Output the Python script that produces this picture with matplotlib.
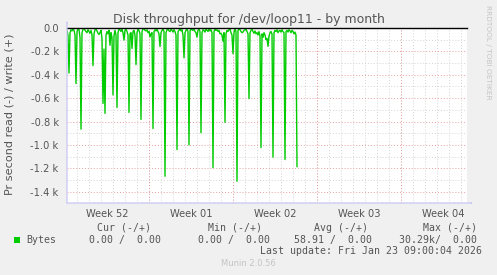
import matplotlib
matplotlib.use("Agg")
import matplotlib.pyplot as plt
import matplotlib.patches as patches
from matplotlib.ticker import FuncFormatter, MultipleLocator
import numpy as np
import pandas as pd

# bytes read per second, 2-hour samples (plotted as negative)
reads = [
    20, 60, 385, 40, 15, 25, 10, 20, 60, 475,
    30, 10, 15, 80, 865, 40, 10, 5, 20, 30,
    40, 15, 30, 45, 20, 60, 322, 50, 15, 10,
    25, 45, 55, 40, 20, 90, 645, 180, 730, 60,
    30, 50, 20, 148, 40, 80, 573, 70, 20, 60,
    680, 40, 10, 15, 30, 10, 40, 103, 20, 10,
    30, 60, 722, 50, 40, 175, 30, 20, 60, 313,
    40, 10, 20, 50, 782, 30, 10, 5, 20, 25,
    15, 40, 30, 76, 50, 40, 860, 30, 15, 25,
    10, 30, 50, 158, 40, 20, 10, 30, 1268, 40,
    15, 10, 25, 30, 10, 20, 35, 15, 30, 60,
    1040, 30, 20, 10, 25, 15, 60, 255, 40, 20,
    10, 30, 1000, 25, 10, 15, 20, 10, 30, 40,
    78, 20, 10, 30, 896, 40, 15, 20, 35, 10,
    20, 30, 10, 25, 15, 40, 1194, 30, 10, 20,
    15, 30, 20, 50, 45, 60, 112, 40, 807, 50,
    20, 30, 15, 10, 40, 60, 220, 40, 10, 30,
    1311, 20, 10, 15, 30, 40, 35, 20, 15, 10,
    30, 50, 604, 40, 20, 10, 30, 45, 25, 50,
    40, 60, 30, 70, 1023, 50, 80, 40, 60, 100,
    90, 157, 70, 40, 30, 50, 1105, 40, 20, 30,
    15, 40, 25, 20, 35, 15, 30, 40, 1125, 30,
    20, 35, 15, 25, 40, 20, 30, 50, 35, 60,
    1185,
]
series_start = "2025-12-22 04:00"
view_start = "2025-12-22 04:00"
view_end = "2026-01-24 12:00"
week_labels_at = pd.date_range("2025-12-25 12:00", "2026-01-22 12:00", freq="7D")
week_starts = pd.date_range("2025-12-29", "2026-01-19", freq="7D")
days = pd.date_range("2025-12-23", "2026-01-24", freq="D")

legend_cols = ["Cur (-/+)", "Min (-/+)", "Avg (-/+)", "Max (-/+)"]
legend_vals = ["0.00 /  0.00", "0.00 /  0.00", "58.91 /  0.00", "30.29k/  0.00"]

W, H = 497, 275
BG = "#f0f0f0"
TXT = "#555555"
AXC = "#c8c8f4"

fig = plt.figure(figsize=(W / 100, H / 100), dpi=100, facecolor=BG)


def fx(px):
    return px / W


def fy(py):
    return 1 - py / H


ax = fig.add_axes([fx(67), fy(203), 400 / W, 175 / H])
ax.set_facecolor("white")

times = pd.date_range(series_start, periods=len(reads), freq="2h")
ax.plot(times, -np.array(reads, dtype=float), color="#00cc00", lw=1.0, zorder=3)

ax.set_xlim(pd.Timestamp(view_start), pd.Timestamp(view_end))
ax.set_ylim(-1497, 0)

# grid
ax.set_xticks(week_labels_at)
ax.set_xticklabels([t.strftime("Week %V") for t in week_labels_at])
ax.set_xticks(days, minor=True)
ax.yaxis.set_major_locator(MultipleLocator(200))
ax.yaxis.set_minor_locator(MultipleLocator(100))
dot = (0, (1, 2))
ax.grid(which="minor", color="#d4d4d4", lw=0.7, ls=dot)
ax.grid(which="major", axis="y", color="#e8a0a0", lw=0.7, ls=dot)
for t in week_starts:
    ax.axvline(t, color="#e8a0a0", lw=0.7, ls=dot, zorder=1)
ax.set_axisbelow(True)

ax.yaxis.set_major_formatter(FuncFormatter(
    lambda v, p: "0.0" if abs(v) < 1e-9 else f"{v / 1000:.1f} k"))
ax.tick_params(which="both", length=0, labelsize=7.1, colors=TXT)
ax.tick_params(axis="y", pad=6)
ax.tick_params(axis="x", pad=4)
for s in ax.spines.values():
    s.set_visible(False)

# zero line
ax.axhline(0, color="black", lw=1.0, zorder=4, clip_on=False)

# axes with arrows
arrow = dict(arrowstyle="-|>,head_length=0.35,head_width=0.18", color=AXC, lw=0.9,
             shrinkA=0, shrinkB=0)
fig.patches.append(patches.FancyArrowPatch(
    (fx(67), fy(203)), (fx(67), fy(21)), transform=fig.transFigure, **arrow))
fig.patches.append(patches.FancyArrowPatch(
    (fx(67), fy(203)), (fx(473), fy(203)), transform=fig.transFigure, **arrow))

# texts
fig.text(0.5, fy(19), "Disk throughput for /dev/loop11 - by month",
         ha="center", va="center", fontsize=9.0, color=TXT)
fig.text(fx(10), fy(114), "Pr second read (-) / write (+)", rotation=90,
         ha="center", va="center", fontsize=8.1, color=TXT)
fig.text(fx(488), fy(5), "RRDTOOL / TOBI OETIKER", rotation=270,
         ha="center", va="top", fontsize=5.3, color="#c4c4c4")

mono = dict(family="DejaVu Sans Mono", fontsize=7.1, color=TXT, va="center")
fig.patches.append(patches.Rectangle((fx(14), fy(243)), 6 / W, 6 / H,
                                     transform=fig.transFigure,
                                     facecolor="#00cc00", edgecolor="none"))
fig.text(fx(26), fy(240), "Bytes", ha="left", **mono)
head_right = [151, 262, 368, 477]
val_right = [161, 270, 372, 477]
for c, v, hr, vr in zip(legend_cols, legend_vals, head_right, val_right):
    fig.text(fx(hr), fy(228), c, ha="right", **mono)
    fig.text(fx(vr), fy(240), v, ha="right", **mono)
fig.text(fx(482), fy(251), "Last update: Fri Jan 23 09:00:04 2026", ha="right", **mono)
fig.text(0.5, fy(264), "Munin 2.0.56", ha="center", va="center",
         fontsize=6, color="#c4c4c4")

fig.savefig("out.png", dpi=100, facecolor=BG)
